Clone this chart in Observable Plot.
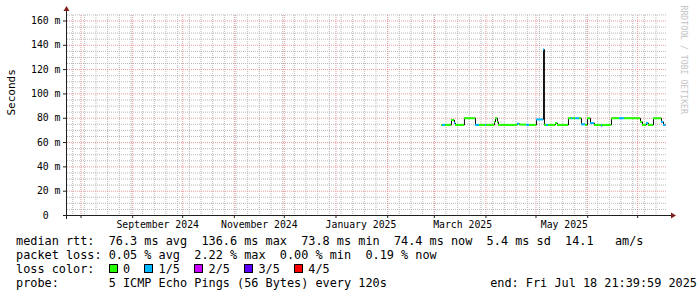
<!DOCTYPE html>
<html>
<head>
<meta charset="utf-8">
<script src="https://cdn.jsdelivr.net/npm/d3@7"></script>
<script src="https://cdn.jsdelivr.net/npm/@observablehq/plot@0.6"></script>
<style>
  html, body { margin: 0; padding: 0; background: #fff; }
  #chart svg { display: block; }
  #legend { font-family: 'DejaVu Sans Mono', monospace; font-size: 11.85px; line-height: 14px;
            padding-top: 2px; padding-left: 16px; white-space: pre; color: #000; width: 681px; position: relative; }
  .l { height: 14px; position: relative; }
  .r { position: absolute; right: 0; top: 0; }
  .box { display: inline-block; width: 9px; height: 9px; border: 1px solid #000; box-sizing: border-box;
         margin-right: calc(2ch - 9px); vertical-align: 0; }
</style>
</head>
<body>
<div id="chart"></div>
<div id="legend"></div>
<script>
// ---- data ----
const graphStart = "2024-07-23T21:39:59Z";
const graphEnd = "2025-07-18T21:39:59Z";
const dataEnd = "2025-07-17T17";

const segStart = [
  "2025-03-05T07","2025-03-05T22","2025-03-07T17","2025-03-11T07","2025-03-13T02","2025-03-13T17",
  "2025-03-19T02","2025-03-25T17","2025-03-28T02","2025-03-31T17","2025-04-01T07","2025-04-06T02",
  "2025-04-06T17","2025-04-07T22","2025-04-08T12","2025-04-19T22","2025-04-21T02","2025-04-25T07",
  "2025-04-27T02","2025-05-01T07","2025-05-05T12","2025-05-06T02","2025-05-07T07","2025-05-08T12",
  "2025-05-12T17","2025-05-13T22","2025-05-20T12","2025-05-22T07","2025-05-23T07","2025-05-24T17",
  "2025-05-27T02","2025-05-28T07","2025-05-30T17","2025-05-31T22","2025-06-02T17","2025-06-05T02",
  "2025-06-09T07","2025-06-09T22","2025-06-15T07","2025-06-20T02","2025-06-23T02","2025-07-02T17",
  "2025-07-03T22","2025-07-06T07","2025-07-07T12","2025-07-10T12","2025-07-15T07","2025-07-16T12"
];
const segMedian = [
  74.5, 74.5, 74.5, 78.5, 76, 74.5,
  80, 74.5, 74.5, 74.5, 74.5, 77,
  80, 77, 74.5, 75.5, 74.8, 74.5,
  74.5, 79, 136.6, 74.5, 74.5, 74.5,
  76, 74.5, 80, 80, 80, 80,
  80, 75, 74.5, 80, 76, 74.5,
  73.8, 74.5, 80, 80, 80, 77,
  74.5, 76, 74.5, 80, 77, 74.5
];
const segLoss = [
  0,1,0,0,1,0,
  0,1,0,1,0,0,
  0,0,0,1,0,1,
  0,1,1,0,1,0,
  0,0,0,1,0,1,
  0,1,0,0,1,0,
  1,0,0,1,0,0,
  0,1,0,0,1,1
];

const lossLabels = ["0", "1/5", "2/5", "3/5", "4/5"];
const lossColors = ["#26ff00", "#00b8ff", "#cc00ff", "#5e00ff", "#ff0000"];

const yTicks = [0, 20, 40, 60, 80, 100, 120, 140, 160];
const yMax = 164.5;
const monthLabels = ["September 2024", "November 2024", "January 2025", "March 2025", "May 2025"];
const monthLabelDates = ["2024-09-16", "2024-11-16", "2025-01-16", "2025-03-18", "2025-05-18"];

const rttStats = ["76.3 ms avg", "136.6 ms max", "73.8 ms min", "74.4 ms now", "5.4 ms sd", "14.1   am/s"];
const lossStats = ["0.05 % avg", "2.22 % max", "0.00 % min", "0.19 % now"];
const probeText = "5 ICMP Echo Pings (56 Bytes) every 120s";
const endText = "end: Fri Jul 18 21:39:59 2025";

// ---- build ----
const parseH = d3.utcParse("%Y-%m-%dT%H");
const t0 = new Date(graphStart), t1 = new Date(graphEnd);
const segs = segStart.map((s, i) => ({
  x1: parseH(s),
  x2: parseH(i + 1 < segStart.length ? segStart[i + 1] : dataEnd),
  y: segMedian[i],
  c: lossColors[segLoss[i]]
}));
const pts = segs.map(d => ({x: d.x1, y: d.y})).concat([{x: segs[segs.length - 1].x2, y: segs[segs.length - 1].y}]);

const minorY = d3.range(5, 166, 5).filter(v => v % 20 !== 0);
const majorY = yTicks;
const weeks = d3.utcSaturday.range(t0, t1);
const months = d3.utcMonth.range(t0, t1);
const labelDates = monthLabelDates.map(s => new Date(s + "T00:00Z"));

const minorCol = "#b8b8b8", majorCol = "#e99a9a";

const chart = Plot.plot({
  width: 697, height: 232,
  marginLeft: 67, marginRight: 30, marginTop: 15, marginBottom: 17,
  style: {fontFamily: "'DejaVu Sans Mono', monospace", fontSize: "9.8px", background: "#fff", color: "#000", overflow: "visible"},
  x: {type: "utc", domain: [t0, t1]},
  y: {domain: [0, yMax]},
  color: {type: "identity"},
  marks: [
    Plot.ruleY(minorY, {stroke: minorCol, strokeDasharray: "1,1"}),
    Plot.ruleX(weeks, {stroke: minorCol, strokeDasharray: "1,1"}),
    Plot.ruleY(majorY.filter(v => v > 0), {stroke: majorCol, strokeDasharray: "1,1"}),
    Plot.ruleX(months, {stroke: majorCol, strokeDasharray: "1,1"}),
    Plot.line(pts, {x: "x", y: "y", curve: "step-after", stroke: "#111", strokeWidth: 1}),
    Plot.ruleY(segs, {x1: "x1", x2: "x2", y: "y", stroke: "c", strokeWidth: 2}),
    Plot.axisY(yTicks, {tickSize: 4, tickPadding: 3, label: null, stroke: "#1f1f1f",
      tickFormat: d => d === 0 ? "0\u00a0\u00a0" : d + " m"}),
    Plot.axisX(months, {tickSize: 3, tickFormat: () => "", label: null, stroke: "#1f1f1f"}),
    Plot.axisX(labelDates, {tickSize: 0, tickPadding: 6, label: null,
      tickFormat: d => monthLabels[labelDates.findIndex(t => +t === +d)]}),
    Plot.text(["Seconds"], {frameAnchor: "left", dx: -56, rotate: -90, fontSize: 11, text: d => d}),
    Plot.text(["RRDTOOL / TOBI OETIKER"], {frameAnchor: "top-right", dx: 19, dy: -10, rotate: 90,
      textAnchor: "start", fill: "#c4c4c4", fontSize: 8.2, text: d => d})
  ]
});

// axis lines and arrows from the scales
const sx = chart.scale("x"), sy = chart.scale("y");
const X0 = sx.apply(t0), X1 = sx.apply(t1), Y0 = sy.apply(0), YT = sy.apply(yMax);
const svg = d3.select(chart);
const g = svg.append("g");
g.append("line").attr("x1", X0 - 4).attr("x2", X1 + 4).attr("y1", Y0 + 0.5).attr("y2", Y0 + 0.5)
  .attr("stroke", "#1f1f1f");
g.append("line").attr("x1", X0 - 0.5).attr("x2", X0 - 0.5).attr("y1", Y0 + 4).attr("y2", YT - 4)
  .attr("stroke", "#1f1f1f");
g.append("path").attr("d", `M${X1 + 4},${Y0 + 0.5 - 3}L${X1 + 9},${Y0 + 0.5}L${X1 + 4},${Y0 + 0.5 + 3}Z`).attr("fill", "#801f1f");
g.append("path").attr("d", `M${X0 - 0.5 - 3},${YT - 4}L${X0 - 0.5},${YT - 9}L${X0 - 0.5 + 3},${YT - 4}Z`).attr("fill", "#801f1f");

document.getElementById("chart").appendChild(chart);

// legend
const leg = document.getElementById("legend");
function line(html) { const d = document.createElement("div"); d.className = "l"; d.innerHTML = html; leg.appendChild(d); return d; }
line("median rtt:  " + rttStats.join("  "));
line("packet loss: " + lossStats.join("  "));
line("loss color:  " + lossLabels.map((l, i) => `<span class="box" style="background:${lossColors[i]}"></span>${l}`).join("  "));
const p = line("probe:       " + probeText);
const r = document.createElement("span"); r.className = "r"; r.textContent = endText; p.appendChild(r);
</script>
</body>
</html>
